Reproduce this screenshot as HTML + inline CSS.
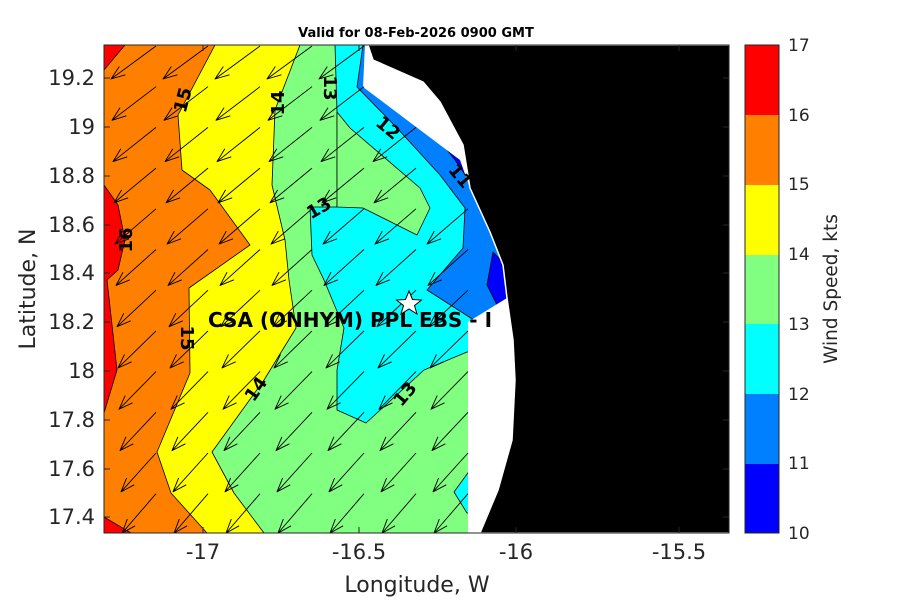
<!DOCTYPE html>
<html><head><meta charset="utf-8"><style>
html,body{margin:0;padding:0;background:#fff;width:900px;height:600px;overflow:hidden}
svg{display:block;font-family:"DejaVu Sans","Liberation Sans",sans-serif}
</style></head><body>
<svg id="s" width="900" height="600" viewBox="0 0 900 600">
<defs><clipPath id="c"><rect x="104" y="45" width="625" height="488"/></clipPath></defs>
<text x="416" y="37" font-size="13" font-weight="bold" text-anchor="middle" fill="#000">Valid for 08-Feb-2026 0900 GMT</text>
<g clip-path="url(#c)" stroke="#000" stroke-width="0.8" stroke-linejoin="round">
<rect x="104" y="45" width="625" height="488" fill="#ff8000" stroke="none"/>
<polygon fill="#ff0000" points="104,45 125,45 104,70"/>
<polygon fill="#ff0000" points="104,185 118,205 125,240 118,270 107,280 117,370 104,413"/>
<polygon fill="#ff0000" points="104,517 131,533 104,533"/>
<polygon fill="#ffff00" points="215,45 800,45 800,533 207,533 171,493 157,452 190,373 189,288 250,245 210,190 182,170 178,115"/>
<polygon fill="#80ff80" points="300,45 800,45 800,533 264,533 234,493 212,452 264,380 296,328 289,280 285,240 272,185 275,110"/>
<polygon fill="#00ffff" points="335,45 520,45 520,352 467,352 424,370 366,423 337,410 337,370 344,328 324,280 312,255 310,207 337,207 337,112"/>
<polygon fill="#80ff80" points="337,112 350,128 420,188 430,208 417,235 363,208 337,207"/>
<polygon fill="#00ffff" points="470,470 454,492 467,513 480,513"/>
<polygon fill="#0080ff" points="363,45 357,87 397,128 440,175 465,208 463,248 427,290 477,322 520,322 520,45"/>
<polygon fill="#0000ff" points="430,128 470,160 472,185 455,160"/>
<polygon fill="#0000ff" points="493,252 510,270 507,302 497,305 487,285"/>
<polygon fill="#ffffff" stroke="none" points="365,45 363,87 460,160 470,188 490,232 503,265 507,298 468,322 468,533 729,533 729,45"/>
<polygon fill="#000000" stroke="#fff" stroke-width="1.5" points="368,45 373,60 423,82 440,102 463,145 470,188 490,232 503,265 507,298 513,340 515,380 512,440 498,490 480,533 740,533 740,45"/>
<g id="arr" fill="none" stroke="#000" stroke-width="0.9"></g>
</g>
<g font-size="18" font-weight="bold" fill="#000" text-anchor="middle">
<text transform="translate(183,100) rotate(-75)" dy="6">15</text>
<text transform="translate(278,103) rotate(-90)" dy="6">14</text>
<text transform="translate(330,88) rotate(90)" dy="6">13</text>
<text transform="translate(388,128) rotate(40)" dy="6">12</text>
<text transform="translate(460,176) rotate(50)" dy="6">11</text>
<text transform="translate(319,208) rotate(-30)" dy="6">13</text>
<text transform="translate(126,240) rotate(-90)" dy="6">16</text>
<text transform="translate(187,338) rotate(90)" dy="6">15</text>
<text transform="translate(256,389) rotate(-55)" dy="6">14</text>
<text transform="translate(405,394) rotate(-50)" dy="6">13</text>
<text x="208" y="327" font-size="20" text-anchor="start">CSA (ONHYM) PPL EBS - I</text>
</g>
<polygon fill="#fff" stroke="#000" stroke-width="1" points="409,291 412.5,299.5 421.5,300 414.5,305.5 417,314 409,309 401,314 403.5,305.5 396.5,300 405.5,299.5"/>
<rect x="104" y="45" width="625" height="488" fill="none" stroke="#262626" stroke-width="1"/>
<g stroke="#262626" stroke-width="1" id="ticks"></g>
<g font-size="21" fill="#262626">
<g text-anchor="end">
<text x="95" y="85">19.2</text><text x="95" y="134">19</text><text x="95" y="183">18.8</text><text x="95" y="232">18.6</text><text x="95" y="280">18.4</text><text x="95" y="329">18.2</text><text x="95" y="378">18</text><text x="95" y="427">17.8</text><text x="95" y="476">17.6</text><text x="95" y="524">17.4</text>
</g>
<g text-anchor="middle">
<text x="203" y="559">-17</text><text x="359" y="559">-16.5</text><text x="516" y="559">-16</text><text x="679" y="559">-15.5</text>
</g>
<text x="417" y="592" font-size="22" text-anchor="middle">Longitude, W</text>
<text transform="translate(35,289) rotate(-90)" font-size="22" text-anchor="middle">Latitude, N</text>
</g>
<rect x="745" y="45" width="34" height="70" fill="#ff0000"/>
<rect x="745" y="115" width="34" height="70" fill="#ff8000"/>
<rect x="745" y="185" width="34" height="70" fill="#ffff00"/>
<rect x="745" y="255" width="34" height="69" fill="#80ff80"/>
<rect x="745" y="324" width="34" height="70" fill="#00ffff"/>
<rect x="745" y="394" width="34" height="70" fill="#0080ff"/>
<rect x="745" y="464" width="34" height="69" fill="#0000ff"/>
<rect x="745" y="45" width="34" height="488" fill="none" stroke="#262626" stroke-width="1"/>
<g font-size="17" fill="#262626">
<text x="788" y="51">17</text><text x="788" y="121">16</text><text x="788" y="190">15</text><text x="788" y="260">14</text><text x="788" y="330">13</text><text x="788" y="400">12</text><text x="788" y="469">11</text><text x="788" y="539">10</text>
<text transform="translate(837,289) rotate(-90)" font-size="18.5" text-anchor="middle">Wind Speed, kts</text>
</g>
</svg>
<script>
var coast=[[45,366],[87,363],[160,460],[188,470],[232,490],[265,503],[298,507],[322,468],[600,468]];
function cx(y){for(var i=0;i<coast.length-1;i++){var a=coast[i],b=coast[i+1];if(y>=a[0]&&y<=b[0]){return a[1]+(b[1]-a[1])*(y-a[0])/(b[0]-a[0]);}}return 468;}
var g=document.getElementById('arr'),h='';
for(var n=0;n<13;n++){var ty=46+40.7*n;var f=n/12;var vx=-45+12*f,vy=33+7*f;
for(var k=0;k<7;k++){var tx=156+52*k;
if(tx>cx(ty)+2)continue;
var hx=tx+vx,hy=ty+vy;var L=Math.sqrt(vx*vx+vy*vy),ux=vx/L,uy=vy/L,a=0.35,hl=15;
var c=Math.cos(a),s=Math.sin(a);
var b1x=hx-hl*(ux*c-uy*s),b1y=hy-hl*(uy*c+ux*s),b2x=hx-hl*(ux*c+uy*s),b2y=hy-hl*(uy*c-ux*s);
h+='<path d="M'+tx+' '+ty+'L'+hx+' '+hy+'M'+b1x+' '+b1y+'L'+hx+' '+hy+'L'+b2x+' '+b2y+'"/>';}}
g.innerHTML=h;
var t=document.getElementById('ticks'),th='';
[78,127,176,225,273,322,371,420,469,517].forEach(function(y){th+='<line x1="104" y1="'+y+'" x2="110" y2="'+y+'"/><line x1="729" y1="'+y+'" x2="723" y2="'+y+'"/>';});
[203,359,516,679].forEach(function(x){th+='<line x1="'+x+'" y1="533" x2="'+x+'" y2="527"/><line x1="'+x+'" y1="45" x2="'+x+'" y2="51"/>';});
[115,185,255,324,394,464].forEach(function(y){th+='<line x1="745" y1="'+y+'" x2="749" y2="'+y+'"/><line x1="779" y1="'+y+'" x2="775" y2="'+y+'"/>';});
t.innerHTML=th;
</script>
</body></html>
